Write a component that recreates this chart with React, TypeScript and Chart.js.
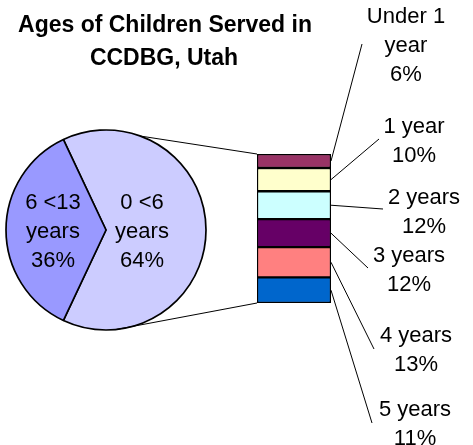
import React, { useEffect, useRef } from 'react';
import { Chart, registerables } from 'chart.js';

Chart.register(...registerables);

// ---------- data ----------
const titleLines = ['Ages of Children Served in', 'CCDBG, Utah'];

const pieCategories = ['0 <6 years', '6 <13 years'];
const pieLabelLines = [['0 <6', 'years'], ['6 <13', 'years']];
const pieValues = [64, 36];
const pieColors = ['#CCCCFF', '#9999FF'];

const barCategories = ['Under 1 year', '1 year', '2 years', '3 years', '4 years', '5 years'];
const barLabelLines = [['Under 1', 'year'], ['1 year'], ['2 years'], ['3 years'], ['4 years'], ['5 years']];
const barValues = [6, 10, 12, 12, 13, 11];
const barColors = ['#993366', '#FFFFCC', '#CCFFFF', '#660066', '#FF8080', '#0066CC'];

// ---------- layout ----------
const W = 473;
const H = 445;
const FONT = '"Liberation Sans", Arial, sans-serif';
const FONT_SIZE = 22;
const TITLE_SIZE = 23;
const LINE_H = 29;
const PIE_BOX = { left: 0, right: 212, top: 130, bottom: 330 };
const PIE_RADIUS = 100;
const PIE_LABEL_R = [0.36, 0.53];
const CONNECT_ANGLES = [-70, 84];
const BAR_BOX = { left: 257, right: 331, top: 154, bottom: 303 };
const LABEL_ANCHORS = [
  [406, 23],
  [414, 133],
  [424, 204],
  [409, 262],
  [416, 342],
  [415, 416],
];
const LEADER_ENDS = [
  [362, 44],
  [379, 139],
  [383, 209],
  [368, 268],
  [374, 349],
  [372, 423],
];
const TITLE_POS = [
  [165, 32],
  [164, 65],
];

export default function App() {
  const pieRef = useRef<HTMLCanvasElement | null>(null);
  const barRef = useRef<HTMLCanvasElement | null>(null);

  useEffect(() => {
    document.body.style.margin = '0';
    if (!pieRef.current || !barRef.current) return;

    const pieTotal = pieValues.reduce((a, b) => a + b, 0);
    const rotation = 90 - (pieValues[0] / pieTotal) * 180;

    const pieLabelsPlugin = {
      id: 'pieLabels',
      afterDraw(chart: any) {
        const ctx = chart.ctx;
        const arcs = chart.getDatasetMeta(0).data;
        ctx.save();
        ctx.fillStyle = '#000';
        ctx.font = `${FONT_SIZE}px ${FONT}`;
        ctx.textAlign = 'center';
        ctx.textBaseline = 'alphabetic';
        arcs.forEach((arc: any, i: number) => {
          const mid = (arc.startAngle + arc.endAngle) / 2;
          const r = arc.outerRadius * PIE_LABEL_R[i];
          const cx = arc.x + Math.cos(mid) * r;
          const cy = arc.y + Math.sin(mid) * r;
          const lines = [...pieLabelLines[i], `${pieValues[i]}%`];
          const n = lines.length;
          lines.forEach((t, k) => {
            const by = cy + (k - (n - 1) / 2) * LINE_H + FONT_SIZE * 0.716 / 2;
            ctx.fillText(t, cx, by);
          });
        });
        ctx.restore();
      },
    };

    const pieChart = new Chart(pieRef.current, {
      type: 'pie',
      data: {
        labels: pieCategories,
        datasets: [
          {
            data: pieValues,
            backgroundColor: pieColors,
            borderColor: '#000',
            borderWidth: 1.7,
          },
        ],
      },
      options: {
        responsive: false,
        animation: false,
        events: [],
        rotation,
        radius: PIE_RADIUS,
        layout: {
          padding: {
            left: PIE_BOX.left,
            right: W - PIE_BOX.right,
            top: PIE_BOX.top,
            bottom: H - PIE_BOX.bottom,
          },
        },
        plugins: { legend: { display: false }, tooltip: { enabled: false }, title: { display: false } },
      } as any,
      plugins: [pieLabelsPlugin],
    });

    const stackOrder = barValues.map((_, i) => i).reverse();
    const barTotal = barValues.reduce((a, b) => a + b, 0);

    const overlayPlugin = {
      id: 'overlay',
      afterDraw(chart: any) {
        const ctx = chart.ctx;
        ctx.save();
        // title
        ctx.fillStyle = '#000';
        ctx.textAlign = 'center';
        ctx.textBaseline = 'alphabetic';
        ctx.font = `bold ${TITLE_SIZE}px ${FONT}`;
        titleLines.forEach((t, k) => ctx.fillText(t, TITLE_POS[k][0], TITLE_POS[k][1]));

        // segment geometry
        let barLeft = Infinity;
        let barTop = Infinity;
        let barBottom = -Infinity;
        ctx.strokeStyle = '#000';
        ctx.lineWidth = 1;
        ctx.font = `${FONT_SIZE}px ${FONT}`;
        stackOrder.forEach((valIdx, dsIdx) => {
          const el: any = chart.getDatasetMeta(dsIdx).data[0];
          const top = Math.min(el.y, el.base);
          const bottom = Math.max(el.y, el.base);
          const left = el.x - el.width / 2;
          const right = el.x + el.width / 2;
          barLeft = Math.min(barLeft, left);
          barTop = Math.min(barTop, top);
          barBottom = Math.max(barBottom, bottom);
          const midY = (top + bottom) / 2;
          const end = LEADER_ENDS[valIdx];
          ctx.beginPath();
          ctx.moveTo(right, midY);
          ctx.lineTo(end[0], end[1]);
          ctx.stroke();
          const anchor = LABEL_ANCHORS[valIdx];
          const lines = [...barLabelLines[valIdx], `${barValues[valIdx]}%`];
          lines.forEach((t, k) => ctx.fillText(t, anchor[0], anchor[1] + k * LINE_H));
        });

        // connector lines from pie to bar
        const arc: any = pieChart.getDatasetMeta(0).data[0];
        if (arc) {
          const pts = CONNECT_ANGLES.map((a) => {
            const rad = (a * Math.PI) / 180;
            return [arc.x + Math.cos(rad) * arc.outerRadius, arc.y + Math.sin(rad) * arc.outerRadius];
          });
          ctx.beginPath();
          ctx.moveTo(pts[0][0], pts[0][1]);
          ctx.lineTo(barLeft, barTop);
          ctx.moveTo(pts[1][0], pts[1][1]);
          ctx.lineTo(barLeft, barBottom);
          ctx.stroke();
        }
        ctx.restore();
      },
    };

    const barChart = new Chart(barRef.current, {
      type: 'bar',
      data: {
        labels: ['0 <6 years'],
        datasets: stackOrder.map((i) => ({
          label: barCategories[i],
          data: [barValues[i]],
          backgroundColor: barColors[i],
          borderColor: '#000',
          borderWidth: 1.5,
          borderSkipped: false,
          barPercentage: 1,
          categoryPercentage: 1,
        })),
      },
      options: {
        responsive: false,
        animation: false,
        events: [],
        layout: {
          padding: {
            left: BAR_BOX.left,
            right: W - BAR_BOX.right,
            top: BAR_BOX.top,
            bottom: H - BAR_BOX.bottom,
          },
        },
        scales: {
          x: { display: false, stacked: true },
          y: { display: false, stacked: true, min: 0, max: barTotal },
        },
        plugins: { legend: { display: false }, tooltip: { enabled: false }, title: { display: false } },
      } as any,
      plugins: [overlayPlugin],
    });

    return () => {
      barChart.destroy();
      pieChart.destroy();
    };
  }, []);

  return (
    <div style={{ position: 'relative', width: W, height: H, background: '#fff' }}>
      <canvas ref={pieRef} width={W} height={H} style={{ position: 'absolute', left: 0, top: 0 }} />
      <canvas ref={barRef} width={W} height={H} style={{ position: 'absolute', left: 0, top: 0 }} />
    </div>
  );
}
